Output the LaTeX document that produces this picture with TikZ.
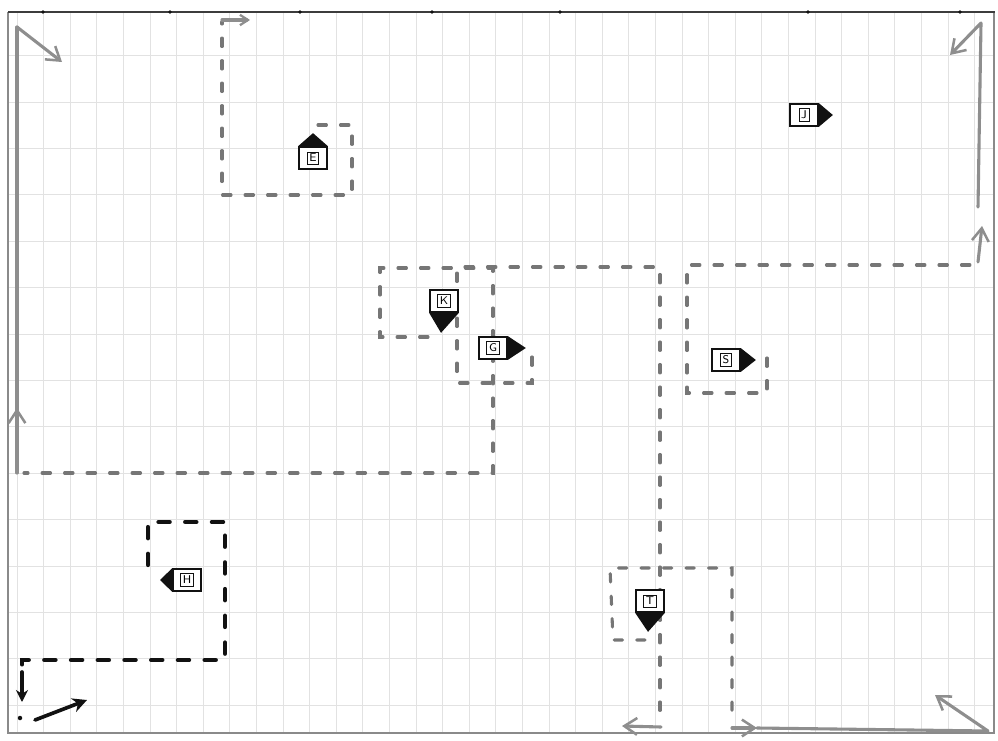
\documentclass[tikz,border=0pt]{standalone}
\usepackage{tikz}
\usetikzlibrary{arrows.meta,calc}
\definecolor{tinta}{HTML}{111111}
\definecolor{marco}{HTML}{3C3C3C}
\definecolor{marco2}{HTML}{8A8A8A}
\definecolor{rejilla}{HTML}{E2E2E2}
\definecolor{lapiz}{HTML}{767676}
\definecolor{lapiz2}{HTML}{8E8E8E}
\tikzset{
  cuadro/.style={draw=tinta,line width=1.2pt,fill=white,minimum width=0.7cm,minimum height=0.55cm,inner sep=0pt},
  letra/.style={draw=tinta,line width=0.5pt,inner sep=1.6pt,font=\sffamily\footnotesize},
  ruta/.style={draw=lapiz,line width=2.2pt,dash pattern=on 6pt off 10pt,line cap=round},
  rutanegra/.style={draw=tinta,line width=3pt,dash pattern=on 8pt off 11pt,line cap=round},
  trazo/.style={draw=lapiz2,line width=2.2pt,line cap=round,line join=round},
  negra/.style={draw=tinta,line width=2.6pt,line cap=round},
  punta/.style={-{Straight Barb[length=3.2mm,width=4.2mm,line width=1.8pt]}},
  puntita/.style={-{Straight Barb[length=2mm,width=2.6mm,line width=1.6pt]}},
}
\begin{document}
\begin{tikzpicture}[x=0.025cm,y=-0.025cm]
  \useasboundingbox (0,0) rectangle (998,741);
  % papel cuadriculado
  \foreach \i in {0,...,36} \draw[rejilla,line width=0.5pt] ({17+26.6*\i},13) -- ({17+26.6*\i},732);
  \foreach \j in {1,...,15} \draw[rejilla,line width=0.5pt] (9,{9.2+46.4*\j}) -- (993,{9.2+46.4*\j});
  \draw[marco2,line width=0.8pt] (8,12) -- (8,733) -- (994,733) -- (994,12);
  \draw[marco,line width=1.5pt] (8,12) -- (995,12);
  \foreach \t in {43,170,300,432,560,808,960} \fill[tinta] (\t,12) circle (1.4pt);

  % recorridos en gris
  \draw[ruta] (318,125) -- (352,125) -- (352,195) -- (222,195) -- (222,22);
  \draw[trazo,puntita] (222,20) -- (250,20);
  \draw[ruta] (428,337) -- (380,337) -- (380,268) -- (493,268) -- (493,473) -- (24,473);
  \draw[trazo] (17,473) -- (17,27);
  \draw[trazo,punta] (17,445) -- (17,408);
  \draw[trazo,punta] (17,27) -- (62,62);
  \draw[ruta] (532,357) -- (532,383) -- (457,383) -- (457,267) -- (660,267) -- (660,724);
  \draw[trazo,punta] (661,727) -- (622,726);
  \draw[ruta] (767,358) -- (767,393) -- (687,393) -- (687,265) -- (974,265);
  \draw[trazo,punta] (978,262) -- (982,226);
  \draw[trazo,punta] (978,207) -- (981,23) -- (950,55);
  \draw[ruta] (645,640) -- (613,640) -- (610,568) -- (732,568) -- (732,724);
  \draw[trazo,punta] (732,728) -- (757,728);
  \draw[trazo,punta] (757,728) -- (988,731) -- (935,695);

  % recorrido en negro
  \draw[rutanegra] (148,565) -- (148,522) -- (225,522) -- (225,660) -- (22,660) -- (22,676);
  \draw[negra,-{Stealth[length=3mm,width=3mm]}] (22,672) -- (22,702);
  \fill[tinta] (20,718) circle (1.6pt);
  \draw[negra,-{Stealth[length=3.6mm,width=3.6mm]}] (35,720) -- (87,700);

  % marcas
  \node[cuadro] (cajaE) at (313,158) {}; \node[letra] (E) at (cajaE) {E};
  \fill[tinta] (cajaE.north west) -- ($(cajaE.north)+(0,-13)$) -- (cajaE.north east) -- cycle;
  \node[cuadro] (cajaJ) at (804,115) {}; \node[letra] (J) at (cajaJ) {J};
  \fill[tinta] (cajaJ.north east) -- ($(cajaJ.east)+(14,0)$) -- (cajaJ.south east) -- cycle;
  \node[cuadro] (cajaK) at (444,301) {}; \node[letra] (K) at (cajaK) {K};
  \fill[tinta] (cajaK.south west) -- ($(cajaK.south)+(-3,20)$) -- (cajaK.south east) -- cycle;
  \node[cuadro] (cajaG) at (493,348) {}; \node[letra] (G) at (cajaG) {G};
  \fill[tinta] (cajaG.north east) -- ($(cajaG.east)+(18,0)$) -- (cajaG.south east) -- cycle;
  \node[cuadro] (cajaS) at (726,360) {}; \node[letra] (S) at (cajaS) {S};
  \fill[tinta] (cajaS.north east) -- ($(cajaS.east)+(15,0)$) -- (cajaS.south east) -- cycle;
  \node[cuadro] (cajaH) at (187,580) {}; \node[letra] (H) at (cajaH) {H};
  \fill[tinta] (cajaH.north west) -- ($(cajaH.west)+(-12,0)$) -- (cajaH.south west) -- cycle;
  \node[cuadro] (cajaT) at (650,601) {}; \node[letra] (T) at (cajaT) {T};
  \fill[tinta] (cajaT.south west) -- ($(cajaT.south)+(-2,19)$) -- (cajaT.south east) -- cycle;
\end{tikzpicture}
\end{document}
